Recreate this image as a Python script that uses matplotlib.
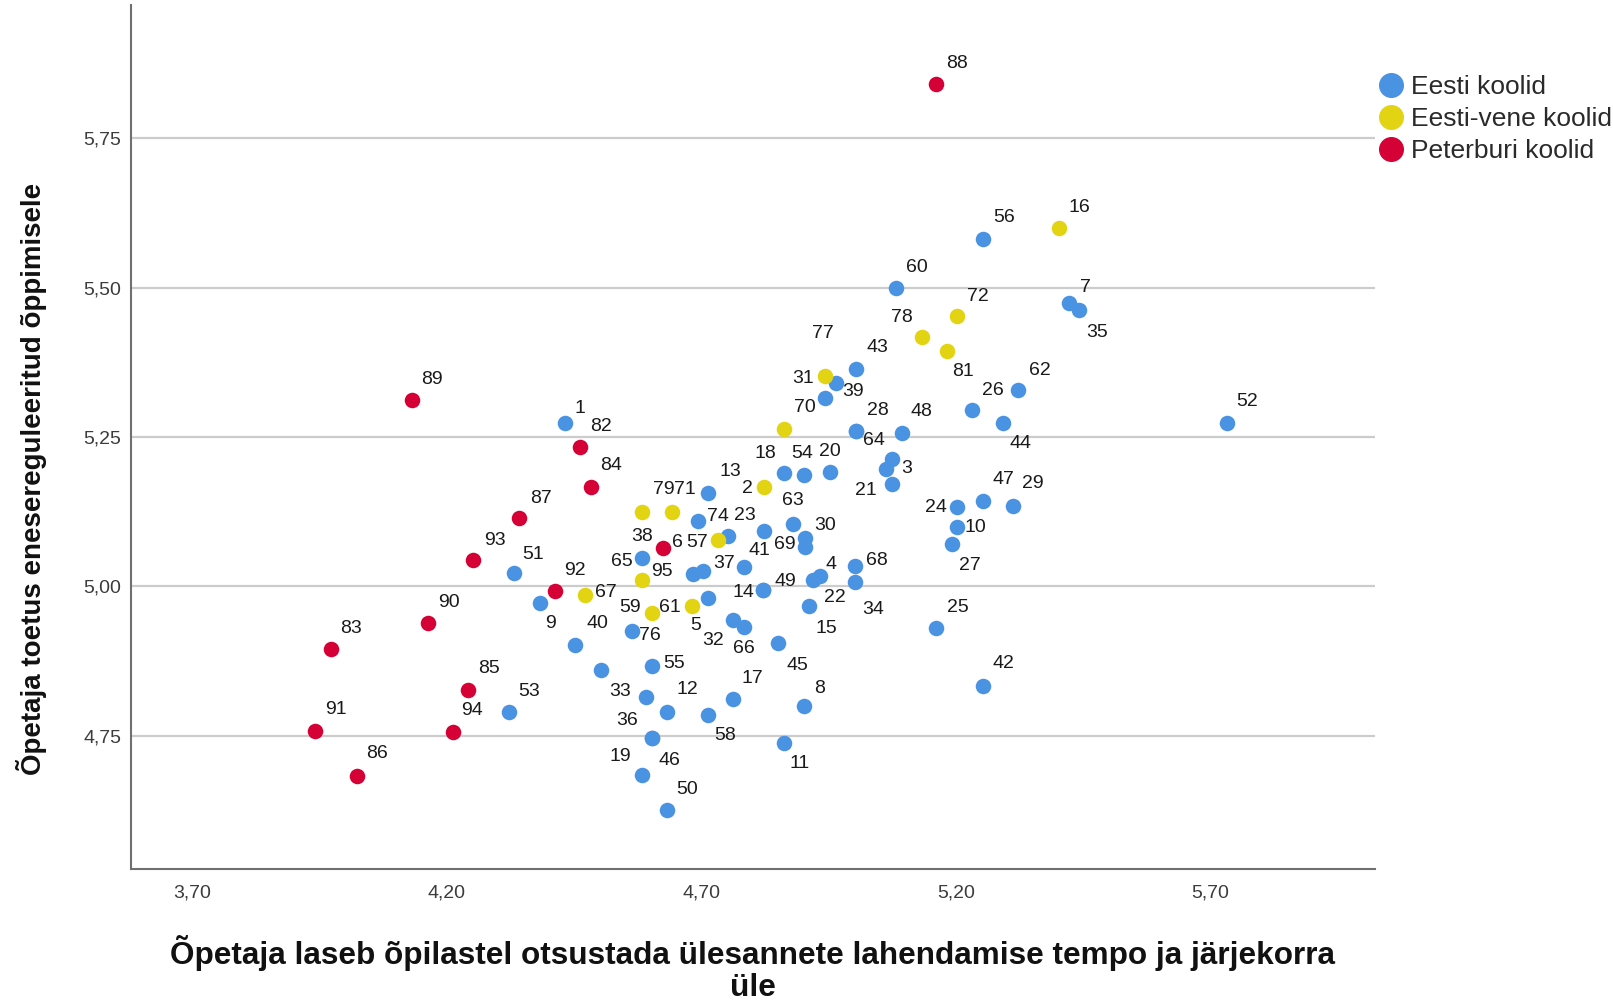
import matplotlib
matplotlib.use('Agg')
import matplotlib.pyplot as plt
from matplotlib.lines import Line2D

plt.rcParams['font.family'] = ['Liberation Sans', 'DejaVu Sans']

# andmed: Eesti koolid
eesti_lbl = ['56', '60', '7', '35', '43', '39', '31', '62', '26', '44', '52', '1', '28', '64',
             '48', '3', '', '21', '18', '54', '20', '13', '74', '57', '23', '63', '30', '69',
             '41', '37', '', '65', '49', '14', '5', '4', '22', '15', '68', '34', '24', '47',
             '29', '10', '27', '25', '42', '51', '9', '40', '', '76', '32', '66', '45', '55',
             '33', '12', '58', '17', '8', '53', '36', '46', '11', '19', '50']
eesti_x = [5.253, 5.083, 5.423, 5.443, 5.003, 4.965, 4.943, 5.323, 5.232, 5.293, 5.733, 4.433,
           5.003, 5.003, 5.094, 5.074, 5.063, 5.074, 4.862, 4.902, 4.953, 4.713, 4.693, 4.753,
           4.823, 4.881, 4.904, 4.904, 4.783, 4.703, 4.683, 4.583, 4.822, 4.822, 4.713, 4.933,
           4.920, 4.912, 5.002, 5.002, 5.203, 5.253, 5.313, 5.203, 5.193, 5.162, 5.253, 4.333,
           4.383, 4.452, 4.502, 4.563, 4.763, 4.783, 4.851, 4.603, 4.592, 4.632, 4.713, 4.762,
           4.902, 4.323, 4.603, 4.603, 4.862, 4.583, 4.632]
eesti_y = [5.582, 5.500, 5.474, 5.462, 5.364, 5.340, 5.315, 5.328, 5.295, 5.273, 5.273, 5.274,
           5.260, 5.260, 5.257, 5.213, 5.196, 5.171, 5.190, 5.186, 5.191, 5.157, 5.110, 5.084,
           5.093, 5.105, 5.081, 5.066, 5.033, 5.026, 5.020, 5.047, 4.994, 4.994, 4.980, 5.018,
           5.011, 4.967, 5.034, 5.008, 5.133, 5.143, 5.135, 5.100, 5.071, 4.930, 4.833, 5.022,
           4.973, 4.902, 4.860, 4.926, 4.944, 4.932, 4.905, 4.867, 4.815, 4.790, 4.785, 4.811,
           4.800, 4.789, 4.746, 4.746, 4.738, 4.685, 4.626]

# Eesti-vene koolid
vene_lbl = ['16', '72', '78', '81', '77', '70', '2', '79', '71', '6', '95', '67', '61', '59']
vene_x = [5.403, 5.203, 5.133, 5.183, 4.943, 4.862, 4.823, 4.583, 4.642, 4.732, 4.583, 4.472, 4.681, 4.603]
vene_y = [5.599, 5.452, 5.417, 5.394, 5.352, 5.264, 5.167, 5.125, 5.125, 5.077, 5.010, 4.985, 4.967, 4.956]

# Peterburi koolid
peter_lbl = ['89', '82', '84', '87', '93', '92', '90', '83', '85', '91', '94', '86', '88', '38']
peter_x = [4.132, 4.462, 4.483, 4.342, 4.252, 4.413, 4.164, 3.972, 4.242, 3.942, 4.213, 4.023, 5.162, 4.624]
peter_y = [5.312, 5.233, 5.167, 5.115, 5.044, 4.992, 4.939, 4.895, 4.826, 4.758, 4.756, 4.683, 5.840, 5.064]

groups = ['Eesti koolid', 'Eesti-vene koolid', 'Peterburi koolid']
x_ticks = [3.70, 4.20, 4.70, 5.20, 5.70]
y_ticks = [4.75, 5.00, 5.25, 5.50, 5.75]

# sildi nihked pikslites (paremale, alla)
offsets = {
    '89': (20, -20), '82': (21, -21), '84': (20, -21), '87': (22, -19), '93': (22, -20),
    '92': (20, -21), '90': (20, -20), '83': (20, -21), '85': (21, -22), '91': (20, -21),
    '94': (19, -22), '86': (20, -22), '88': (21, -21), '38': (-21, -12),
    '16': (20, -21), '72': (21, -20), '78': (-20, -20), '81': (16, 21), '77': (-2, -43),
    '70': (21, -21), '2': (-16, 2), '79': (22, -22), '71': (13, -22), '6': (-40, 2),
    '95': (20, -9), '67': (21, -3), '61': (-22, 1), '59': (-22, -5),
    '56': (21, -21), '60': (21, -20), '7': (16, -16), '35': (18, 22), '43': (22, -21),
    '39': (17, 8), '31': (-22, -20), '62': (21, -20), '26': (21, -20), '44': (17, 20),
    '52': (20, -22), '1': (15, -14), '28': (22, -21), '64': (18, 9), '48': (20, -21),
    '3': (15, 9), '21': (-26, 6), '18': (-18, -19), '54': (-2, -22), '20': (0, -21),
    '13': (22, -21), '74': (20, -4), '57': (-31, 6), '23': (-19, -15), '63': (-1, -23),
    '30': (20, -12), '69': (-20, -2), '41': (16, -16), '37': (21, -7), '65': (-20, 3),
    '49': (22, -8), '14': (-20, 3), '5': (-12, 27), '4': (11, -11), '22': (22, 18),
    '15': (17, 22), '68': (22, -6), '34': (18, 28), '24': (-21, 1), '47': (21, -21),
    '29': (20, -22), '10': (18, 1), '27': (18, 22), '25': (21, -21), '42': (21, -23),
    '51': (19, -19), '9': (11, 21), '40': (22, -21), '76': (18, 5), '32': (-20, 21),
    '66': (0, 21), '45': (19, 22), '55': (22, -2), '33': (-26, -5), '12': (21, -22),
    '58': (17, 21), '17': (20, -21), '8': (15, -17), '53': (20, -21), '36': (-25, -18),
    '46': (18, 22), '11': (16, 21), '19': (-21, -18), '50': (20, -20),
}

colors = ['#4A92E2', '#E2D412', '#D50036']

fig = plt.figure(figsize=(16.13, 10), dpi=100)
ax = fig.add_axes([131 / 1613, 0.131, 1244 / 1613, 0.864])

data = [(eesti_x, eesti_y, eesti_lbl), (vene_x, vene_y, vene_lbl), (peter_x, peter_y, peter_lbl)]
for (xs, ys, lbls), c in zip(data, colors):
    ax.scatter(xs, ys, s=125, color=c, linewidths=0, zorder=3)
    for x, y, t in zip(xs, ys, lbls):
        if not t:
            continue
        dx, dy = offsets[t]
        ax.annotate(t, (x, y), xytext=(dx, -dy), textcoords='offset pixels',
                    ha='center', va='center', fontsize=14, color='#1a1a1a', zorder=4)

ax.set_xlim(3.5796, 6.0236)
ax.set_ylim(4.527, 5.973)
ax.set_xticks(x_ticks)
ax.set_yticks(y_ticks)
ax.set_xticklabels([f'{v:.2f}'.replace('.', ',') for v in x_ticks])
ax.set_yticklabels([f'{v:.2f}'.replace('.', ',') for v in y_ticks])
ax.tick_params(axis='both', length=0, labelsize=14, labelcolor='#3c3c3c')
ax.tick_params(axis='x', pad=11)
ax.tick_params(axis='y', pad=7)
ax.yaxis.grid(True, color='#cccccc', linewidth=1.6)
ax.set_axisbelow(True)
for s in ['top', 'right']:
    ax.spines[s].set_visible(False)
for s in ['left', 'bottom']:
    ax.spines[s].set_color('#707070')
    ax.spines[s].set_linewidth(1.5)

fig.text(32 / 1613, 1 - 479 / 1000, 'Õpetaja toetus enesereguleeritud õppimisele',
         rotation=90, ha='center', va='center', fontsize=20, fontweight='bold', color='#111111')
fig.text(753 / 1613, 1 - 969 / 1000,
         'Õpetaja laseb õpilastel otsustada ülesannete lahendamise tempo ja järjekorra\nüle',
         ha='center', va='center', fontsize=22.7, fontweight='bold', color='#111111', linespacing=1.05)

handles = [Line2D([], [], marker='o', ls='', color=c, markersize=17) for c in colors]
fig.legend(handles, groups, loc='upper left', bbox_to_anchor=(1378 / 1613, 1 - 75 / 1000),
           frameon=False, fontsize=19, handletextpad=0.25, labelspacing=0.3, borderpad=0,
           borderaxespad=0, handlelength=1.0, labelcolor='#2a2a2a')

fig.savefig('out.png', dpi=100)
